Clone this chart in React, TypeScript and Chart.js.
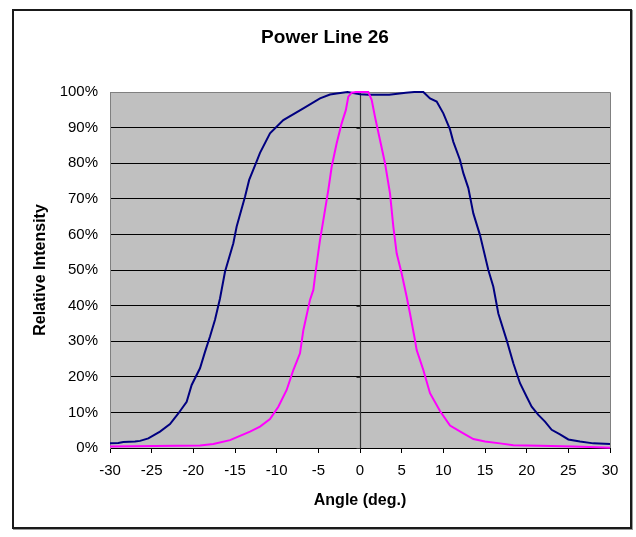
import React, { useEffect, useRef } from "react";
import { Chart, registerables } from "chart.js";

Chart.register(...registerables);

const chartTitle = "Power Line 26";
const xAxisTitle = "Angle (deg.)";
const yAxisTitle = "Relative Intensity";

const blueAngles = [
  -30, -29, -28.4, -27, -26.4, -25.4, -24, -22.8, -21.8, -20.8, -20.2, -19.2, -18.6, -18, -17.4, -16.8,
  -16.2, -15.2, -14.8, -13.8, -13.3, -12.4, -12, -10.8, -9.2, -6.8, -4.8, -3.6, -2.8, -1.5, 0, 1, 3.5,
  4.5, 5.5, 6.5, 7.6, 8.4, 9.2, 10, 10.8, 11.2, 12, 12.4, 13, 13.6, 14.4, 15.4, 16, 16.6, 17.6, 18.4,
  19.2, 20, 20.6, 21.4, 22.2, 23, 24, 25, 26.4, 28, 30,
];
const blueValues = [
  1.3, 1.4, 1.7, 1.8, 2.0, 2.7, 4.6, 6.7, 9.7, 13, 17.7, 22.4, 27, 31.3, 36, 42,
  49.5, 57.5, 62.2, 70.6, 75.3, 80.5, 82.9, 88.4, 92.1, 95.4, 98.2, 99.3, 99.6, 100, 99.4, 99.2, 99.2,
  99.5, 99.8, 100, 100, 98.2, 97.3, 94, 89.5, 86, 80.9, 77.2, 73, 65.9, 59.8, 50, 45.3, 37.8, 30.3, 23.8,
  18.2, 14.4, 11.6, 9.3, 7.4, 5.1, 3.8, 2.4, 1.8, 1.3, 1.1,
];

const pinkAngles = [
  -30, -22, -19.2, -17.6, -15.6, -14.4, -13.2, -12, -10.8, -9.8, -8.8, -8, -7.2, -6.8, -6, -5.6, -5.3,
  -4.8, -4.4, -3.8, -3.4, -2.8, -2.2, -1.7, -1.4, -1, -0.5, 1, 1.4, 1.8, 2.4, 3, 3.6, 4, 4.4, 5, 5.6, 6,
  6.6, 6.8, 7.6, 8.4, 9.6, 10.8, 12.4, 13.6, 15, 16.8, 18.4, 21.6, 25.6, 28.4, 30,
];
const pinkValues = [
  0.4, 0.6, 0.7, 1.1, 2.2, 3.4, 4.6, 6, 8.1, 11.6, 16.3, 21.9, 26.6, 33.1, 41.6, 44.4, 50,
  58.4, 64, 72.5, 79, 85.6, 91.2, 94.9, 98.7, 99.8, 100, 100, 97.8, 93, 86.5, 80, 71.5, 62.2, 54.7, 49, 42.5, 37.8,
  30.3, 27.5, 21.9, 15.4, 10.4, 6.3, 4.1, 2.5, 1.8, 1.3, 0.8, 0.6, 0.4, 0.2, 0.1,
];

const FONT = "Arial, 'Liberation Sans', sans-serif";

const plotDecor = {
  id: "plotDecor",
  beforeDraw(chart: any) {
    const { ctx, chartArea } = chart;
    ctx.save();
    ctx.fillStyle = "#C0C0C0";
    ctx.fillRect(chartArea.left, chartArea.top, chartArea.right - chartArea.left, chartArea.bottom - chartArea.top);
    ctx.restore();
  },
  beforeDatasetsDraw(chart: any) {
    const { ctx, chartArea, scales } = chart;
    const x = scales.x;
    const y = scales.y;
    ctx.save();
    ctx.strokeStyle = "#808080";
    ctx.lineWidth = 1;
    ctx.beginPath();
    ctx.moveTo(chartArea.left, chartArea.top + 0.5);
    ctx.lineTo(chartArea.right + 0.5, chartArea.top + 0.5);
    ctx.lineTo(chartArea.right + 0.5, chartArea.bottom);
    ctx.stroke();
    const px = Math.round(x.getPixelForValue(0)) + 0.5;
    ctx.strokeStyle = "#333333";
    ctx.lineWidth = 1.2;
    ctx.beginPath();
    ctx.moveTo(px, chartArea.top);
    ctx.lineTo(px, chartArea.bottom);
    for (const t of y.ticks) {
      const py = Math.round(y.getPixelForValue(t.value)) + 0.5;
      ctx.moveTo(px - 4, py);
      ctx.lineTo(px, py);
    }
    ctx.stroke();
    ctx.restore();
  },
  afterDraw(chart: any) {
    const { ctx } = chart;
    ctx.save();
    ctx.fillStyle = "#000";
    ctx.font = `bold 19px ${FONT}`;
    ctx.textAlign = "center";
    ctx.textBaseline = "middle";
    ctx.fillText(chartTitle, 325, 38);
    ctx.restore();
  },
};

export default function App() {
  const ref = useRef<HTMLCanvasElement | null>(null);

  useEffect(() => {
    document.body.style.margin = "0";
    const canvas = ref.current;
    if (!canvas) return;
    const chart = new Chart(canvas, {
      type: "line",
      data: {
        datasets: [
          {
            label: "Narrow",
            data: pinkAngles.map((a, i) => ({ x: a, y: pinkValues[i] })),
            borderColor: "#FF00FF",
            borderWidth: 2,
            pointRadius: 0,
            tension: 0,
            clip: 4,
          },
          {
            label: "Wide",
            data: blueAngles.map((a, i) => ({ x: a, y: blueValues[i] })),
            borderColor: "#000080",
            borderWidth: 2,
            pointRadius: 0,
            tension: 0,
            clip: 4,
          },
        ],
      },
      options: {
        animation: false,
        responsive: false,
        devicePixelRatio: 1,
        layout: { padding: { top: 92, right: 26, bottom: 0, left: 0 } },
        plugins: {
          legend: { display: false },
          tooltip: { enabled: false },
          title: { display: false },
        },
        scales: {
          x: {
            type: "linear",
            min: -30,
            max: 30,
            afterFit(scale: any) {
              scale.height = 89;
            },
            ticks: {
              stepSize: 5,
              color: "#000",
              font: { family: FONT, size: 15 },
              padding: 9,
              maxRotation: 0,
            },
            grid: {
              drawOnChartArea: false,
              drawTicks: true,
              tickLength: 5,
              color: "#000",
            },
            border: { display: true, color: "#000", width: 1 },
            title: {
              display: true,
              text: xAxisTitle,
              color: "#000",
              font: { family: FONT, size: 16, weight: "bold" },
              padding: { top: 0, bottom: 27 },
            },
          },
          y: {
            type: "linear",
            min: 0,
            max: 100,
            afterFit(scale: any) {
              scale.width = 110;
            },
            ticks: {
              stepSize: 10,
              color: "#000",
              font: { family: FONT, size: 15 },
              padding: 12,
              callback: (v: any) => `${v}%`,
            },
            grid: {
              drawTicks: false,
              color: (c: any) => (c.tick && c.tick.value === 100 ? "#808080" : "#000000"),
              lineWidth: 1,
            },
            border: { display: true, color: "#808080", width: 1 },
            title: {
              display: true,
              text: yAxisTitle,
              color: "#000",
              font: { family: FONT, size: 16, weight: "bold" },
              padding: { top: 31, bottom: 0 },
            },
          },
        },
      },
      plugins: [plotDecor],
    });
    return () => chart.destroy();
  }, []);

  return (
    <div style={{ position: "relative", width: 636, height: 537, background: "#fff" }}>
      <canvas ref={ref} width={636} height={537} style={{ position: "absolute", left: 0, top: 0 }} />
      <div
        style={{
          position: "absolute",
          left: 12,
          top: 9,
          width: 620,
          height: 520,
          boxSizing: "border-box",
          border: "2px solid #1a1a1a",
          boxShadow: "1px 1px 0 #999",
          pointerEvents: "none",
        }}
      />
    </div>
  );
}
